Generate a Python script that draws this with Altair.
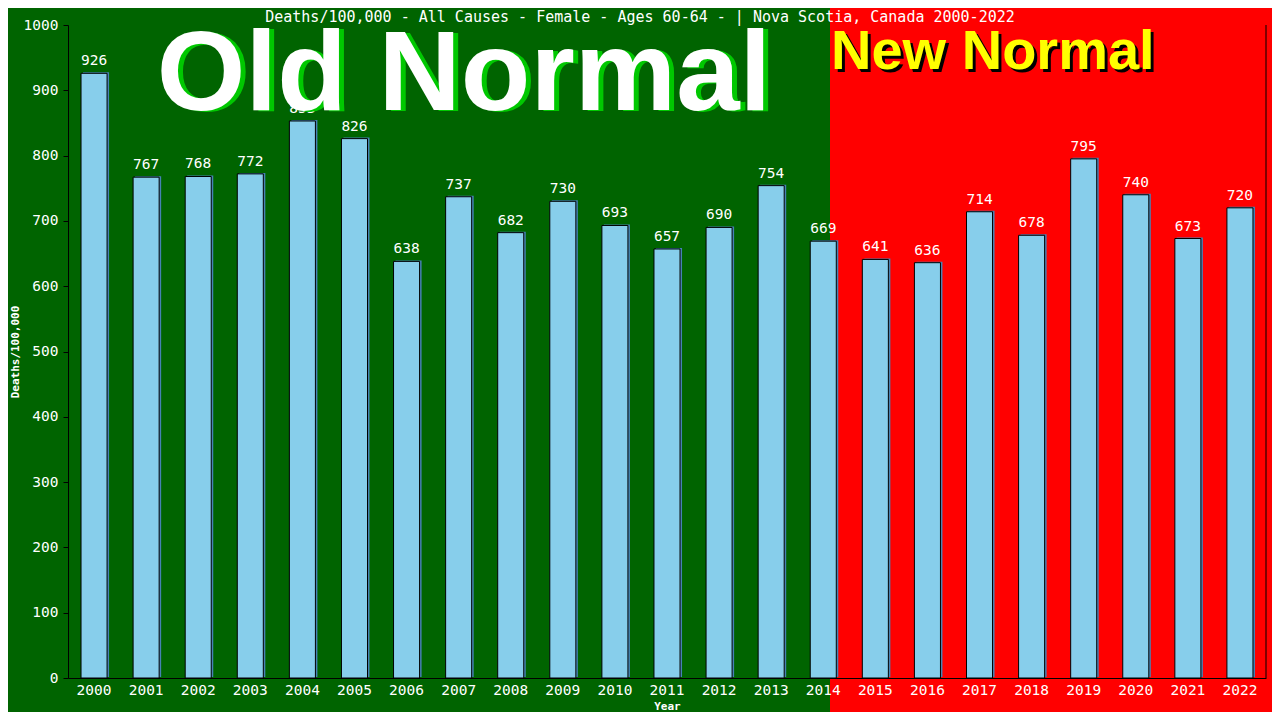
import altair as alt
import pandas as pd

years = [str(y) for y in range(2000, 2023)]
values = [926, 767, 768, 772, 853, 826, 638, 737, 682, 730, 693, 657, 690, 754,
          669, 641, 636, 714, 678, 795, 740, 673, 720]
title_text = "Deaths/100,000 - All Causes - Female - Ages 60-64 -  | Nova Scotia, Canada 2000-2022"
y_ticks = list(range(0, 1001, 100))

df = pd.DataFrame({"year": years, "value": values})
one = pd.DataFrame({"t": [""]})

W, H = 1198, 653
MONO = "DejaVu Sans Mono"

xscale = alt.Scale(paddingInner=0.5, paddingOuter=0.25)
yscale = alt.Scale(domain=[0, 1000], nice=False)

xenc = alt.X("year:O", scale=xscale, title="Year",
             axis=alt.Axis(labelAngle=0, ticks=False, labelPadding=5, labelColor="white",
                           labelFont=MONO, labelFontSize=14.5, domainColor="black",
                           titleColor="white", titleFont=MONO, titleFontSize=11,
                           titleFontWeight="bold", titlePadding=4, zindex=1))
yenc = alt.Y("value:Q", scale=yscale, title="Deaths/100,000",
             axis=alt.Axis(values=y_ticks, format="d", grid=False, tickColor="black",
                           tickSize=5, labelPadding=5, labelColor="white", labelFont=MONO,
                           labelFontSize=14.5, domainColor="black", titleColor="white",
                           titleFont=MONO, titleFontSize=11, titleFontWeight="bold",
                           titlePadding=3, zindex=1))

red = alt.Chart(one).mark_rect(color="#ff0000").encode(
    x=alt.value(762), x2=alt.value(1240), y=alt.value(-40), y2=alt.value(720))

base = alt.Chart(df)
shadow = base.mark_bar(color="#4682b4", xOffset=2, yOffset=-1).encode(x=xenc, y=yenc)
bars = base.mark_bar(color="#87ceeb", stroke="black", strokeWidth=1).encode(x=xenc, y=yenc)
labels = base.mark_text(color="white", font=MONO, fontSize=14.5, baseline="alphabetic",
                        dy=-8).encode(x=xenc, y=yenc, text="value:Q")


def big_word(word, x, y, size, color, align="center"):
    return alt.Chart(one).mark_text(
        text=word, font="Liberation Sans", fontWeight="bold", fontSize=size,
        color=color, align=align, baseline="alphabetic").encode(
        x=alt.value(x), y=alt.value(y))


OLD_SIZE = 114
old_layers = [
    big_word("Old Normal", 401, 86, OLD_SIZE, "#00c800"),
    big_word("Old Normal", 396, 85, OLD_SIZE, "white"),
]

NEW_SIZE = 56
new_layers = [
    big_word("New Normal", 766, 47, NEW_SIZE, "black", align="left"),
    big_word("New Normal", 763, 44, NEW_SIZE, "#ffff00", align="left"),
]

title = alt.Chart(one).mark_text(
    text=title_text, font=MONO, fontSize=15, color="white", align="center",
    baseline="middle").encode(x=alt.value(572), y=alt.value(-8))

right_rule = alt.Chart(one).mark_rule(color="black").encode(
    x=alt.value(W), y=alt.value(0), y2=alt.value(H))

chart = alt.layer(red, shadow, bars, labels, *old_layers, *new_layers,
                  title, right_rule).properties(
    width=W, height=H,
    autosize=alt.AutoSizeParams(type="none"),
    padding={"left": 60, "top": 17, "right": 6, "bottom": 34},
    background="#006400",
).configure_view(stroke=None)

chart.save("out.html", embed_options={"renderer": "svg", "actions": False})
